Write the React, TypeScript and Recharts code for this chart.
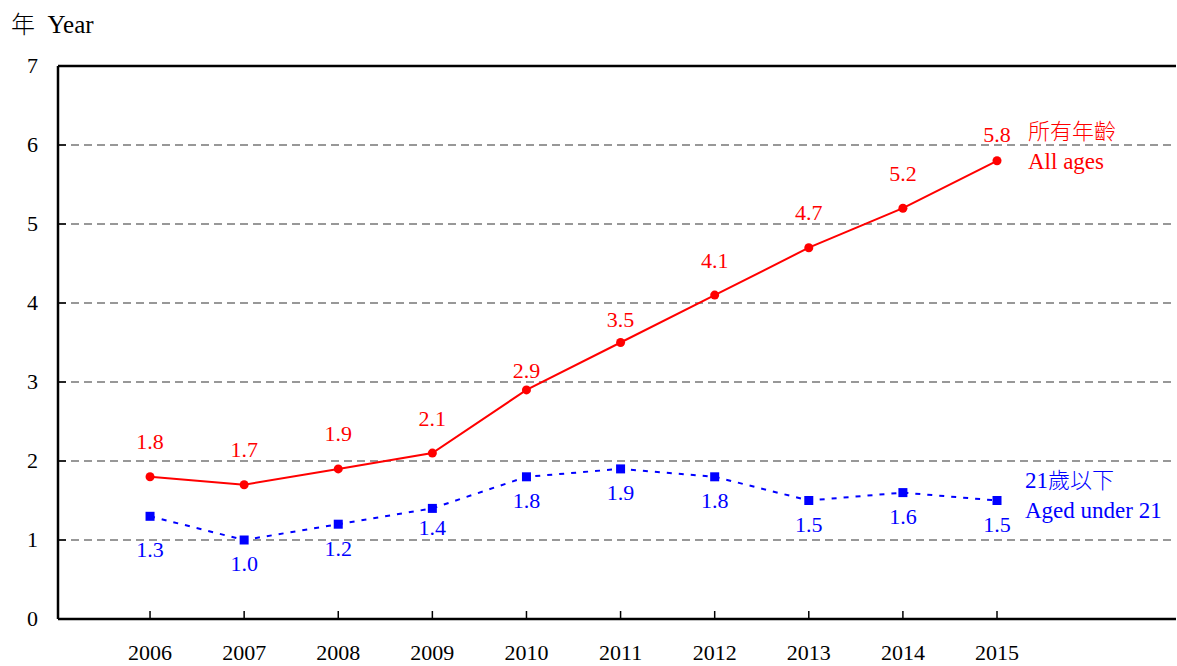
import { CartesianGrid, LabelList, Line, LineChart, ReferenceLine, XAxis, YAxis } from "recharts";

const years = [2006, 2007, 2008, 2009, 2010, 2011, 2012, 2013, 2014, 2015];
const allAges = [1.8, 1.7, 1.9, 2.1, 2.9, 3.5, 4.1, 4.7, 5.2, 5.8];
const under21 = [1.3, 1.0, 1.2, 1.4, 1.8, 1.9, 1.8, 1.5, 1.6, 1.5];
const yTicks = [0, 1, 2, 3, 4, 5, 6, 7];

const rows = years.map((year, i) => ({ year, all: allAges[i], young: under21[i] }));

const SERIF = '"Liberation Serif", "Times New Roman", serif';
const CJK = '"Noto Sans CJK TC", "Noto Sans CJK SC", sans-serif';
const RED = "#ff0000";
const BLUE = "#0000ff";

// label offsets tweaked by hand in the original chart
const redLift: Record<number, number> = { 2010: 19, 2011: 23, 2015: 26 };
const blueDrop: Record<number, number> = { 2006: 33, 2009: 19 };

function XTick({ x, y, payload }: any) {
  return (
    <g>
      <line x1={x} x2={x} y1={y} y2={y - 8} stroke="#000" strokeWidth={1.5} />
      <text x={x} y={y + 41} textAnchor="middle" fontFamily={SERIF} fontSize={22} fill="#000">
        {payload.value}
      </text>
    </g>
  );
}

function YTick({ x, y, payload }: any) {
  return (
    <g>
      <line x1={x} x2={x + 8} y1={y} y2={y} stroke="#000" strokeWidth={1.5} />
      <text x={x - 20} y={y} dy="0.34em" textAnchor="end" fontFamily={SERIF} fontSize={22} fill="#000">
        {payload.value}
      </text>
    </g>
  );
}

function RedLabel({ x, y, value, index }: any) {
  const yr = years[index];
  const lift = redLift[yr] ?? 35;
  const last = index === years.length - 1;
  return (
    <g>
      <text x={x} y={y - lift} dy="0.34em" textAnchor="middle" fontFamily={SERIF} fontSize={22} fill={RED}>
        {Number(value).toFixed(1)}
      </text>
      {last && (
        <>
          <text x={x + 31} y={y - 30} dy="0.36em" fontFamily={CJK} fontWeight={300} fontSize={22} fill={RED}>所有年齡</text>
          <text x={x + 31} y={y} dy="0.34em" fontFamily={SERIF} fontSize={23} fill={RED}>All ages</text>
        </>
      )}
    </g>
  );
}

function BlueLabel({ x, y, value, index }: any) {
  const yr = years[index];
  const drop = blueDrop[yr] ?? 24;
  const last = index === years.length - 1;
  return (
    <g>
      <text x={x} y={y + drop} dy="0.34em" textAnchor="middle" fontFamily={SERIF} fontSize={22} fill={BLUE}>
        {Number(value).toFixed(1)}
      </text>
      {last && (
        <>
          <text x={x + 28} y={y - 21} dy="0.36em" fontSize={23} fill={BLUE}>
            <tspan fontFamily={SERIF}>21</tspan>
            <tspan fontFamily={CJK} fontWeight={300} fontSize={22}>歲以下</tspan>
          </text>
          <text x={x + 28} y={y + 10} dy="0.34em" fontFamily={SERIF} fontSize={23} fill={BLUE}>Aged under 21</text>
        </>
      )}
    </g>
  );
}

function SquareDot({ cx, cy, index }: any) {
  return <rect key={`sq-${index}`} x={cx - 4.5} y={cy - 4.5} width={9} height={9} fill={BLUE} />;
}

export default function App() {
  return (
    <div style={{ position: "absolute", left: 0, top: 0, width: 1177, height: 666, background: "#fff" }}>
      <div
        style={{
          position: "absolute",
          left: 11,
          top: 8,
          fontSize: 25,
          lineHeight: "30px",
          color: "#000",
          whiteSpace: "pre",
        }}
      >
        <span style={{ fontFamily: CJK, fontWeight: 300, fontSize: 24 }}>年</span>
        <span style={{ fontFamily: SERIF }}>{"  Year"}</span>
      </div>
      <LineChart width={1177} height={666} data={rows} margin={{ top: 66, right: 1, bottom: 0, left: 18 }}>
        <CartesianGrid vertical={false} stroke="#777" strokeDasharray="8 5" strokeWidth={1.5} />
        <XAxis
          dataKey="year"
          type="number"
          domain={[2005.022, 2016.902]}
          ticks={years}
          interval={0}
          height={47}
          tickSize={0}
          tickMargin={0}
          tickLine={false}
          axisLine={{ stroke: "#000", strokeWidth: 2.5 }}
          tick={<XTick />}
          allowDataOverflow
        />
        <YAxis
          domain={[0, 7]}
          ticks={yTicks}
          interval={0}
          width={40}
          tickSize={0}
          tickMargin={0}
          tickLine={false}
          axisLine={{ stroke: "#000", strokeWidth: 2.5 }}
          tick={<YTick />}
        />
        <ReferenceLine y={7} stroke="#000" strokeWidth={2.5} />
        <Line
          dataKey="young"
          stroke={BLUE}
          strokeWidth={2}
          strokeDasharray="5 7"
          dot={<SquareDot />}
          activeDot={false}
          isAnimationActive={false}
        >
          <LabelList dataKey="young" content={<BlueLabel />} />
        </Line>
        <Line
          dataKey="all"
          stroke={RED}
          strokeWidth={2}
          dot={{ r: 4.5, fill: RED, stroke: "none" }}
          activeDot={false}
          isAnimationActive={false}
        >
          <LabelList dataKey="all" content={<RedLabel />} />
        </Line>
      </LineChart>
    </div>
  );
}
